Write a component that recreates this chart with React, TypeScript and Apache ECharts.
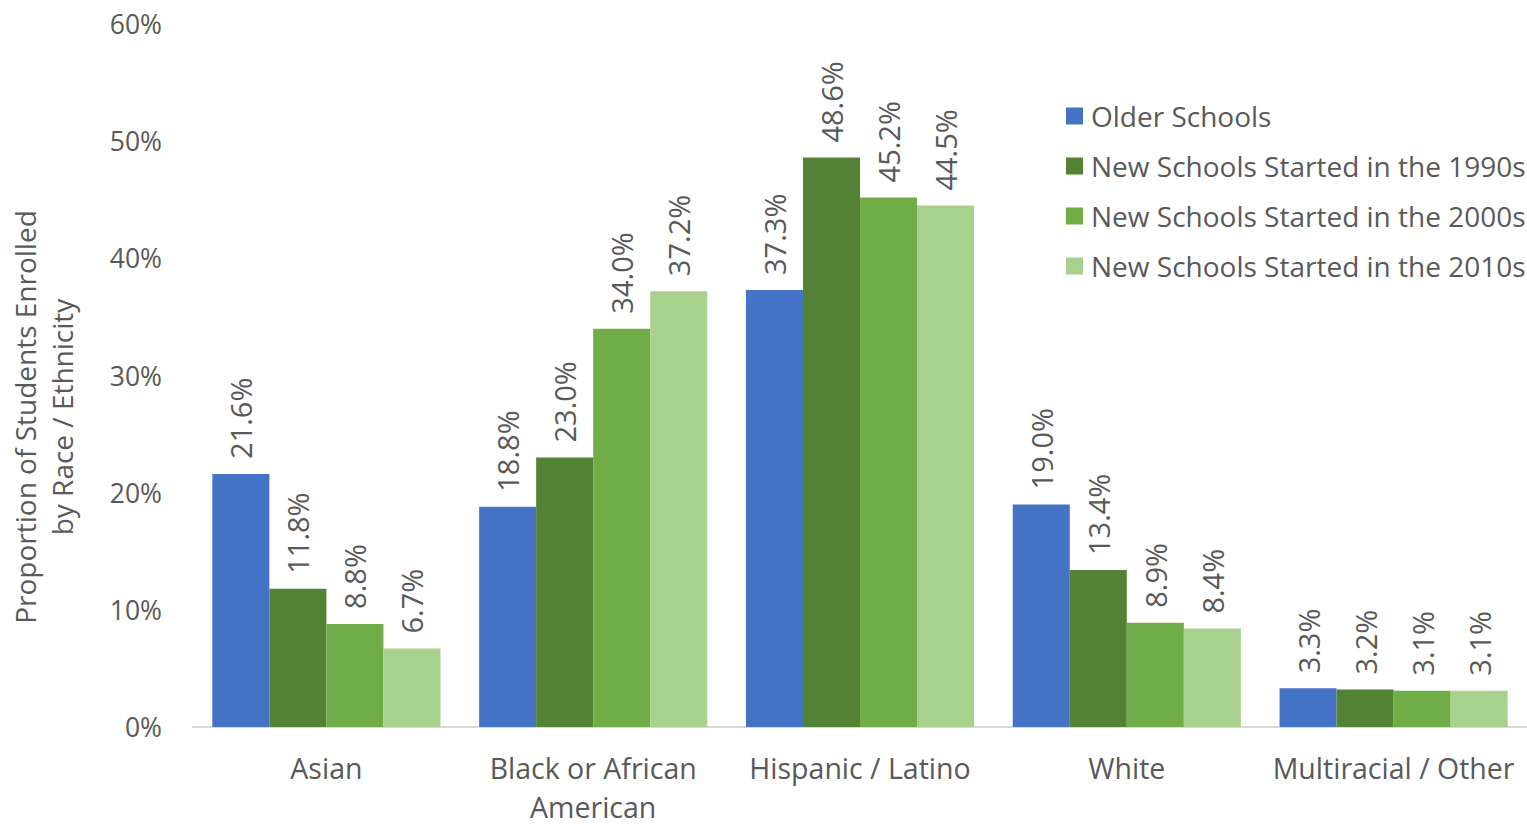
import React, { useEffect, useRef } from "react";
import * as echarts from "echarts";

const categories = ["Asian", "Black or African\nAmerican", "Hispanic / Latino", "White", "Multiracial / Other"];
const seriesNames = [
  "Older Schools",
  "New Schools Started in the 1990s",
  "New Schools Started in the 2000s",
  "New Schools Started in the 2010s",
];
const olderSchools = [21.6, 18.8, 37.3, 19.0, 3.3];
const schools1990s = [11.8, 23.0, 48.6, 13.4, 3.2];
const schools2000s = [8.8, 34.0, 45.2, 8.9, 3.1];
const schools2010s = [6.7, 37.2, 44.5, 8.4, 3.1];
const colors = ["#4472C4", "#548235", "#70AD47", "#A9D18E"];
const yTicks = { min: 0, max: 60, interval: 10 };

const FONT = "'Open Sans', 'Noto Sans', sans-serif";
const TEXT = "#595959";

export default function App() {
  const ref = useRef<HTMLDivElement>(null);
  useEffect(() => {
    if (!ref.current) return;
    const chart = echarts.init(ref.current, null, { renderer: "svg" });
    const allData = [olderSchools, schools1990s, schools2000s, schools2010s];
    chart.setOption({
      animation: false,
      textStyle: { fontFamily: FONT },
      grid: { left: 193, right: 0, top: 24, bottom: 101, containLabel: false },
      legend: {
        orient: "vertical",
        left: 1066,
        top: 101,
        padding: 0,
        itemWidth: 17,
        itemHeight: 17,
        itemGap: 20,
        icon: "rect",
        textStyle: { color: TEXT, fontSize: 28, fontFamily: FONT, lineHeight: 30, padding: [0, 0, 0, 3] },
        data: seriesNames,
      },
      xAxis: {
        type: "category",
        data: categories,
        axisLine: { lineStyle: { color: "#D9D9D9", width: 2 } },
        axisTick: { show: false },
        axisLabel: { color: TEXT, fontSize: 28.5, fontFamily: FONT, lineHeight: 39, margin: 21, interval: 0 },
      },
      yAxis: {
        type: "value",
        min: yTicks.min,
        max: yTicks.max,
        interval: yTicks.interval,
        axisLine: { show: false },
        axisTick: { show: false },
        splitLine: { show: false },
        axisLabel: { color: TEXT, fontSize: 26.5, fontFamily: FONT, margin: 31, formatter: "{value}%" },
      },
      graphic: [
        {
          type: "text",
          x: 43,
          y: 417,
          rotation: Math.PI / 2,
          style: {
            text: "Proportion of Students Enrolled\nby Race / Ethnicity",
            fill: TEXT,
            fontSize: 28,
            fontFamily: FONT,
            lineHeight: 37,
            align: "center",
            verticalAlign: "middle",
          },
        },
      ],
      series: seriesNames.map((name, i) => ({
        name,
        type: "bar",
        data: allData[i],
        barGap: "0%",
        barCategoryGap: "14.5%",
        itemStyle: { color: colors[i] },
        label: {
          show: true,
          position: "top",
          rotate: 90,
          align: "left",
          verticalAlign: "middle",
          distance: 15,
          color: TEXT,
          fontSize: 29,
          fontFamily: FONT,
          formatter: (p: any) => p.value.toFixed(1) + "%",
        },
      })),
    });
    return () => chart.dispose();
  }, []);
  return (
    <div
      ref={ref}
      style={{ position: "absolute", left: 0, top: 0, width: 1527, height: 828, background: "#fff" }}
    />
  );
}
